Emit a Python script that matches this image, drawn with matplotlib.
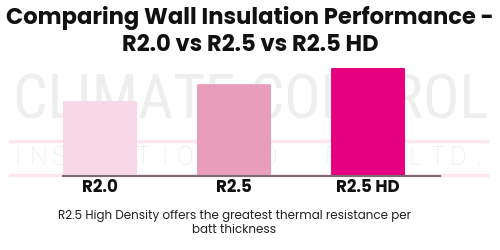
import matplotlib
matplotlib.use("Agg")
import matplotlib.pyplot as plt
from matplotlib.lines import Line2D
from matplotlib.patches import FancyBboxPatch
import numpy as np

plt.rcParams["font.family"] = ["Poppins", "Inter", "DejaVu Sans"]

CATEGORIES = ["R2.0", "R2.5", "R2.5 HD"]
VALUES = [2.0, 2.45, 2.88]
COLORS = ["#F8D8E6", "#E89EBA", "#E4007F"]
TITLE_1 = "Comparing Wall Insulation Performance -"
TITLE_2 = "R2.0 vs R2.5 vs R2.5 HD"
CAPTION = "R2.5 High Density offers the greatest thermal resistance per\nbatt thickness"
WATERMARK = "CLIMATE CONTROL"
WATERMARK_SUB = "INSULATION CO. PTY LTD."

W, H = 500, 250
fig = plt.figure(figsize=(W / 100, H / 100), dpi=100)
fig.patch.set_facecolor("white")

# watermark behind the chart
fig.text(251 / W, 1 - 102 / H, WATERMARK, ha="center", va="center",
         fontsize=44, color="#eeeeee",
         family=["Roboto Condensed", "Liberation Sans Narrow", "Roboto"], zorder=0)
for i, ch in enumerate(WATERMARK_SUB):
    fig.text((17 + 21 * i) / W, 1 - 158 / H, ch, ha="center", va="center",
             fontsize=18, color="#ebebeb", family=["Roboto", "DejaVu Sans"],
             fontweight="light", zorder=0)
for yy in (141, 175):
    fig.add_artist(Line2D([10 / W, 487 / W], [1 - yy / H, 1 - yy / H],
                          transform=fig.transFigure, color="#fde6f0", lw=2.5, zorder=0))

ax = fig.add_axes([63 / W, 1 - 176 / H, 377 / W, 116 / H])
ax.set_zorder(2)
ax.patch.set_alpha(0)
x = np.arange(len(CATEGORIES))
bw = 0.552
for xi, v, c in zip(x, VALUES, COLORS):
    ax.add_patch(FancyBboxPatch((xi - bw / 2, 0), bw, v,
                                boxstyle="round,pad=0,rounding_size=0.02",
                                mutation_aspect=1.1, fc=c, ec="none", zorder=2))
ax.set_xlim(-0.276, 2.537)
ax.set_ylim(0, 2.0 * 116 / 75)
for s in ("top", "right", "left"):
    ax.spines[s].set_visible(False)
ax.spines["bottom"].set_color("#7b6b75")
ax.spines["bottom"].set_linewidth(1.5)
ax.spines["bottom"].set_zorder(3)
ax.set_yticks([])
ax.set_xticks(x)
ax.set_xticklabels(CATEGORIES, fontsize=12, fontweight="bold", color="#111111")
ax.tick_params(axis="x", length=0, pad=2)

fig.text(250 / W, 1 - 18 / H, TITLE_1, ha="center", va="center", fontsize=16.3,
         fontweight="bold", color="#111111", zorder=5)
fig.text(250 / W, 1 - 46 / H, TITLE_2, ha="center", va="center", fontsize=16.3,
         fontweight="bold", color="#111111", zorder=5)
fig.text(234 / W, 1 - 223 / H, CAPTION, ha="center", va="center", fontsize=8.6,
         color="#222222", linespacing=1.25, zorder=5)

fig.savefig("out.png", dpi=100)
